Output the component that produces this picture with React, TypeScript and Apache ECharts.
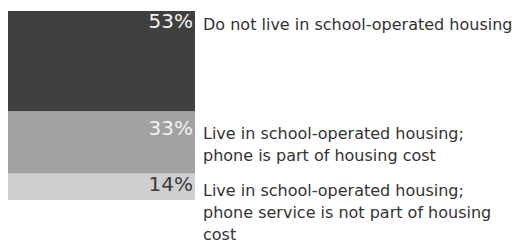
import React, { useEffect, useRef } from "react";
import * as echarts from "echarts";

const categories = ["Students"];
const segmentNames = [
  "Live in school-operated housing;\nphone service is not part of housing\ncost",
  "Live in school-operated housing;\nphone is part of housing cost",
  "Do not live in school-operated housing",
];
const values = [14, 33, 53];
const percentLabels = ["14%", "33%", "53%"];

const fillColors = ["#cfcfcf", "#a2a2a2", "#404040"];
const percentColors = ["#3a3a3a", "#f2f2f2", "#f2f2f2"];
const percentOffsets = [
  [-2, 0],
  [-2, 7],
  [-2, 0],
];
const labelOffsets = [
  [8, 6],
  [8, 11],
  [8, 2],
];

export default function App() {
  const ref = useRef<HTMLDivElement>(null);
  useEffect(() => {
    if (!ref.current) return;
    const chart = echarts.init(ref.current, undefined, { renderer: "svg" });
    const series: any[] = [];
    values.forEach((v, i) => {
      series.push({
        type: "bar",
        stack: "a",
        xAxisIndex: 0,
        data: [v],
        barWidth: "100%",
        itemStyle: { color: fillColors[i] },
        label: {
          show: true,
          formatter: () => percentLabels[i],
          position: ["100%", 0],
          align: "right",
          verticalAlign: "top",
          offset: percentOffsets[i],
          fontSize: 20,
          fontFamily: "DejaVu Sans",
          color: percentColors[i],
        },
      });
    });
    values.forEach((v, i) => {
      series.push({
        type: "bar",
        stack: "b",
        xAxisIndex: 1,
        data: [v],
        barWidth: "100%",
        silent: true,
        itemStyle: { color: "rgba(0,0,0,0)" },
        label: {
          show: true,
          formatter: () => segmentNames[i],
          position: ["100%", 0],
          align: "left",
          verticalAlign: "top",
          offset: labelOffsets[i],
          fontSize: 16,
          lineHeight: 22,
          fontFamily: "DejaVu Sans",
          color: "#333333",
        },
      });
    });
    chart.setOption({
      animation: false,
      grid: { left: 8, right: 330, top: 11, bottom: 45 },
      xAxis: [
        { type: "category", data: categories, show: false },
        { type: "category", data: categories, show: false },
      ],
      yAxis: { type: "value", min: 0, max: 100, show: false },
      series,
    });
    return () => chart.dispose();
  }, []);
  return <div ref={ref} style={{ width: 525, height: 245, position: "absolute", left: 0, top: 0 }} />;
}
